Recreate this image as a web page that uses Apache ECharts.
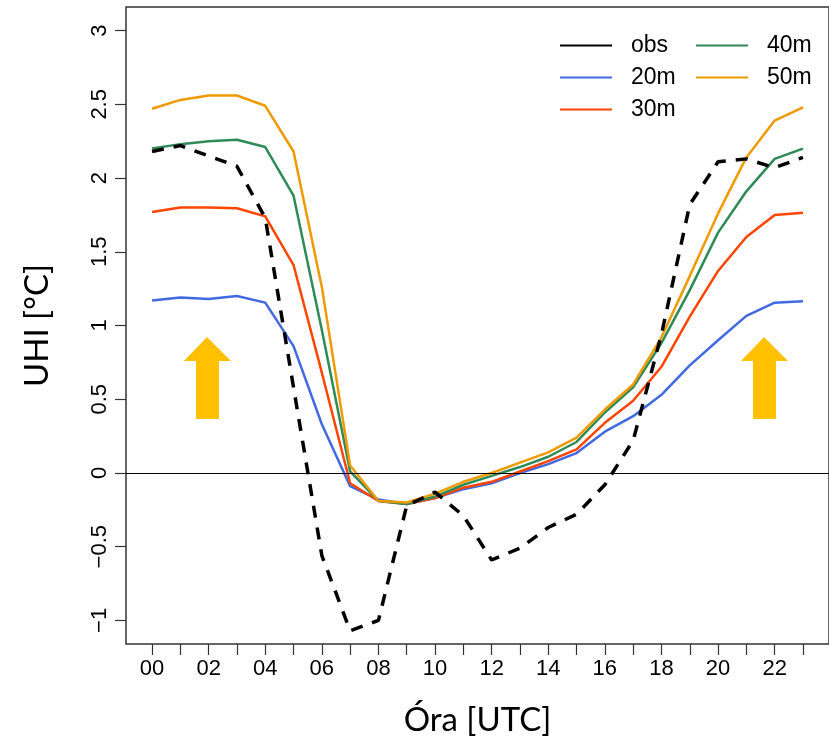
<!DOCTYPE html>
<html>
<head>
<meta charset="utf-8">
<script src="https://cdn.jsdelivr.net/npm/echarts@6/dist/echarts.min.js"></script>
<style>html,body{margin:0;padding:0;background:#fff}#c{width:829px;height:744px}</style>
</head>
<body>
<div id="c"></div>
<script>
const hours = [0,1,2,3,4,5,6,7,8,9,10,11,12,13,14,15,16,17,18,19,20,21,22,23];
const obs  = [2.18, 2.22, 2.15, 2.08, 1.73, 0.58, -0.56, -1.07, -1.00, -0.22, -0.13, -0.29, -0.59, -0.51, -0.37, -0.28, -0.08, 0.22, 0.94, 1.82, 2.11, 2.13, 2.07, 2.14];
const m20  = [1.17, 1.19, 1.18, 1.20, 1.155, 0.86, 0.33, -0.09, -0.18, -0.21, -0.17, -0.11, -0.07, 0.00, 0.06, 0.135, 0.28, 0.385, 0.53, 0.73, 0.90, 1.065, 1.155, 1.165];
const m30  = [1.77, 1.80, 1.80, 1.795, 1.74, 1.41, 0.68, -0.07, -0.19, -0.21, -0.17, -0.10, -0.06, 0.01, 0.08, 0.16, 0.34, 0.49, 0.72, 1.06, 1.37, 1.60, 1.75, 1.765];
const m40  = [2.20, 2.23, 2.25, 2.26, 2.21, 1.88, 0.97, 0.01, -0.19, -0.21, -0.16, -0.08, -0.02, 0.04, 0.11, 0.21, 0.41, 0.58, 0.88, 1.24, 1.63, 1.91, 2.13, 2.20];
const m50  = [2.47, 2.53, 2.56, 2.56, 2.49, 2.18, 1.26, 0.05, -0.19, -0.20, -0.14, -0.06, 0.00, 0.07, 0.14, 0.24, 0.43, 0.60, 0.92, 1.335, 1.76, 2.14, 2.39, 2.48];
const xLabelValues = [0,2,4,6,8,10,12,14,16,18,20,22];
const yTickValues = [-1,-0.5,0,0.5,1,1.5,2,2.5,3];
const xTitle = 'Óra [UTC]';
const yTitle = 'UHI [°C]';

const colors = {obs:'#000000', '20m':'#4169E1', '30m':'#FF4500', '40m':'#2E8B57', '50m':'#EE9A00'};
const pair = arr => hours.map((h,i)=>[h, arr[i]]);

const chart = echarts.init(document.getElementById('c'), null, {renderer:'canvas'});
const tickFont = {fontFamily:'Liberation Sans, Arial, sans-serif', fontSize:22, color:'#000'};
const legendText = {fontFamily:'Liberation Sans, Arial, sans-serif', fontSize:23, color:'#000', padding:[0,0,0,14]};

function lineSeries(name, arr, extra) {
  return Object.assign({
    name: name, type:'line', data: pair(arr), symbol:'none', showSymbol:false,
    lineStyle:{color:colors[name], width:2.5}, itemStyle:{color:colors[name]},
    animation:false, z:3
  }, extra||{});
}

chart.setOption({
  animation:false,
  grid:{left:126, top:7, width:706, height:637, show:true, borderColor:'#333', borderWidth:1.5, backgroundColor:'transparent'},
  xAxis:{
    type:'value', min:-0.92, max:23.92,
    axisLine:{show:false, onZero:false},
    splitLine:{show:false},
    axisTick:{show:true, length:11, lineStyle:{color:'#333', width:1.2}, customValues:hours},
    axisLabel:{show:true, margin:14, customValues:xLabelValues, formatter:v=>String(v).padStart(2,'0'), ...tickFont},
    name:xTitle, nameLocation:'middle', nameGap:60, nameMoveOverlap:false,
    nameTextStyle:{fontFamily:'Lato, Open Sans, sans-serif', fontSize:33, color:'#000'}
  },
  yAxis:{
    type:'value', min:-1.16, max:3.16,
    axisLine:{show:false, onZero:false},
    splitLine:{show:false},
    axisTick:{show:true, length:11, lineStyle:{color:'#333', width:1.2}, customValues:yTickValues},
    axisLabel:{show:true, rotate:90, margin:15, customValues:yTickValues,
      formatter:v=> v<0 ? '\u2212'+String(Math.abs(v)) : String(v), ...tickFont},
    name:yTitle, nameLocation:'middle', nameGap:72, nameRotate:90, nameMoveOverlap:false,
    nameTextStyle:{fontFamily:'Lato, Open Sans, sans-serif', fontSize:33, color:'#000'}
  },
  legend:[
    {data:['obs','20m','30m'], orient:'vertical', left:555, top:29, itemWidth:52, itemHeight:14, itemGap:9,
     textStyle:legendText, lineStyle:{type:'solid', width:2.5}, icon:'path://M0,6 L52,6 L52,8 L0,8 Z'},
    {data:['40m','50m'], orient:'vertical', left:691, top:29, itemWidth:52, itemHeight:14, itemGap:9,
     textStyle:legendText, lineStyle:{type:'solid', width:2.5}, icon:'path://M0,6 L52,6 L52,8 L0,8 Z'}
  ],
  series:[
    lineSeries('20m', m20, {markLine:{silent:true, symbol:'none', label:{show:false}, animation:false,
      lineStyle:{color:'#000', width:1.2, type:'solid'}, data:[{yAxis:0}]}}),
    lineSeries('30m', m30),
    lineSeries('40m', m40),
    lineSeries('50m', m50),
    lineSeries('obs', obs, {lineStyle:{color:'#000', width:3.5, type:[12,10]}, z:4})
  ],
  graphic:[
    {type:'polygon', shape:{points:[[207,337],[231,361],[219,361],[219,419],[196,419],[196,361],[184,361]]}, style:{fill:'#FFC000'}},
    {type:'polygon', shape:{points:[[764,337],[788,361],[776,361],[776,419],[753,419],[753,361],[741,361]]}, style:{fill:'#FFC000'}}
  ]
});
</script>
</body>
</html>
